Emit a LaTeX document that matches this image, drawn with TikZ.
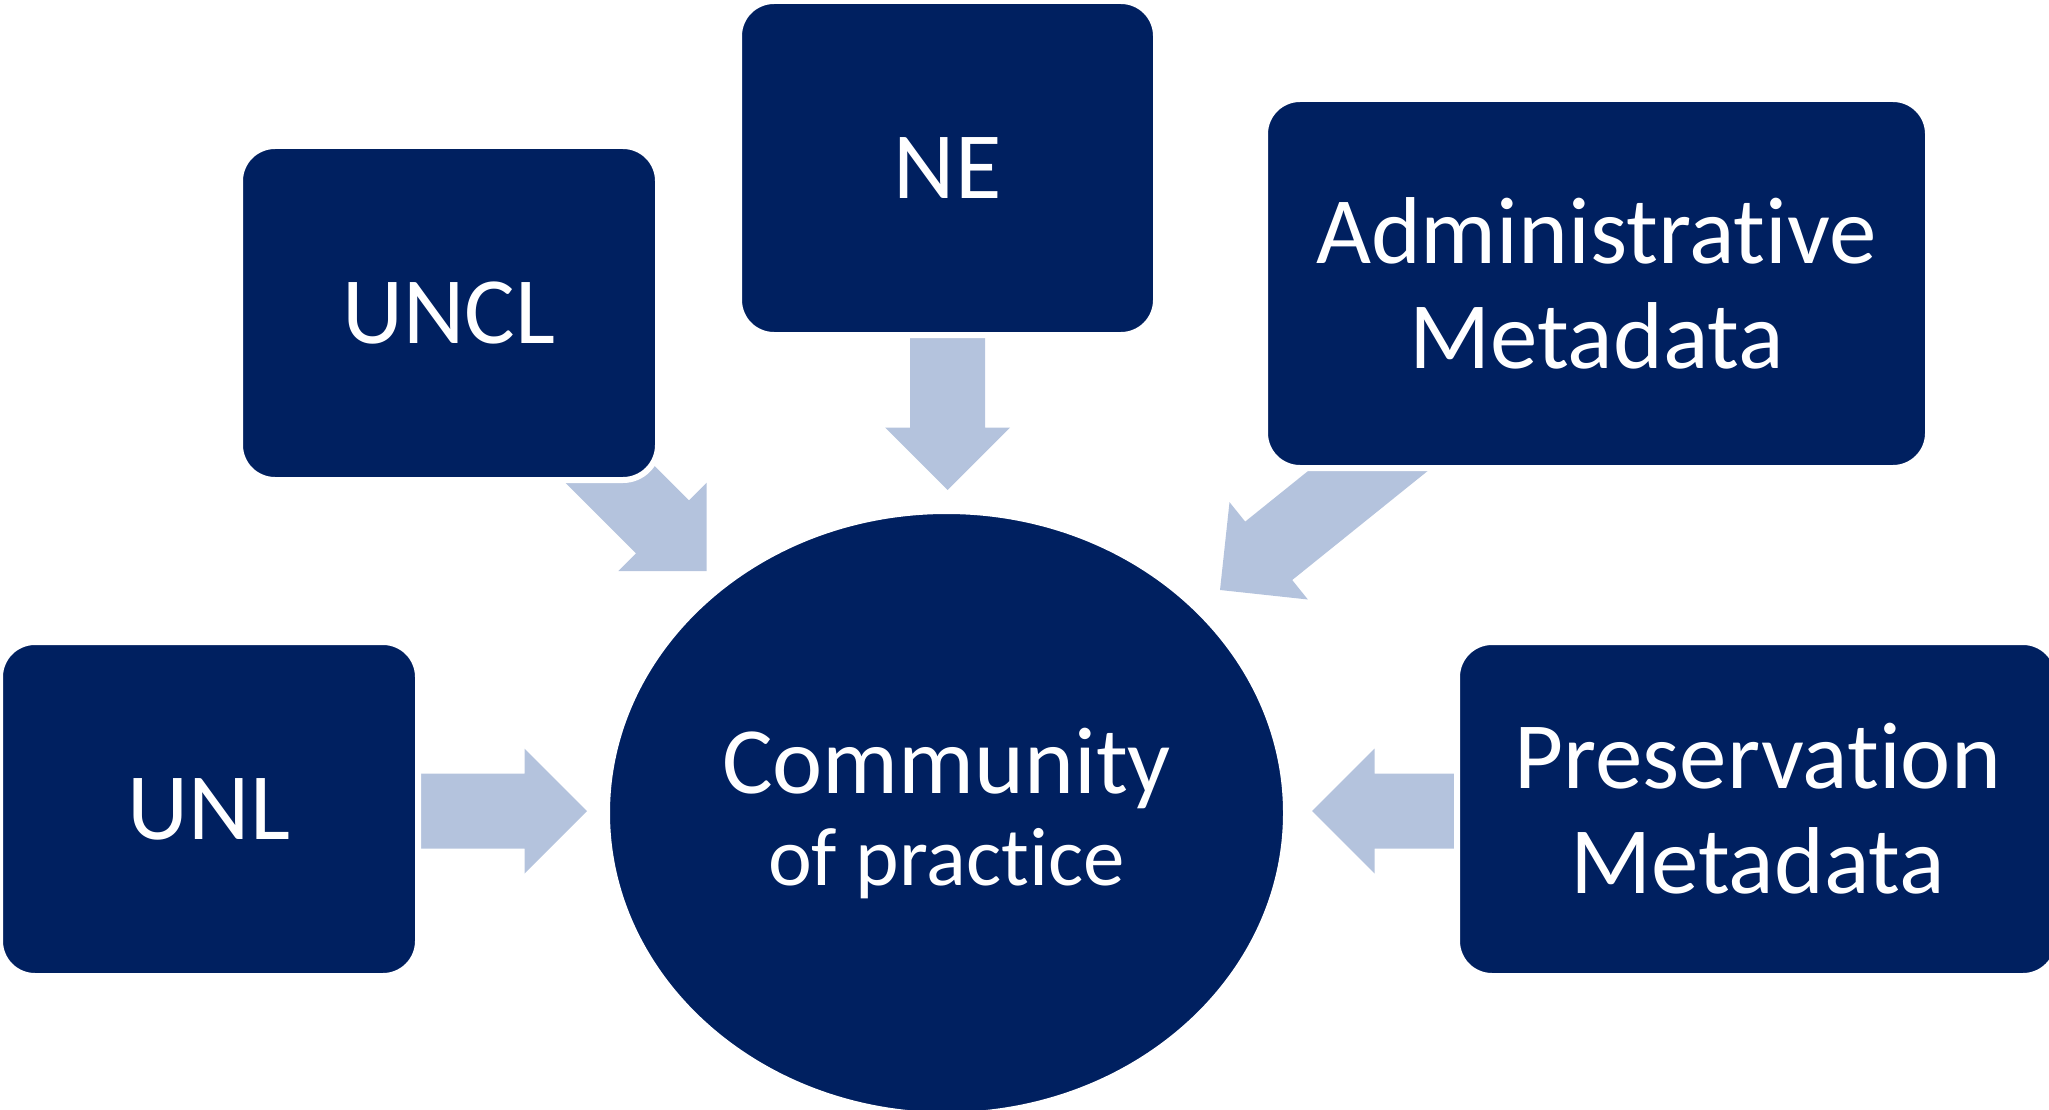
\documentclass[tikz,border=0pt]{standalone}
\usepackage{fontspec}
\setmainfont{Carlito}[Ligatures={NoCommon,NoRare,NoContextual}]
\usetikzlibrary{calc,shapes.geometric}

\definecolor{boxnavy}{RGB}{0,32,96}
\definecolor{arrowblue}{RGB}{180,195,221}

% block arrow from tail (#1) to tip (#2)
\newcommand{\flowarrow}[2]{%
  \coordinate (hb) at ($(#2)!62.5pt!(#1)$);
  \fill [arrowblue]
  ($(#1)!37.5pt!90:(#2)$) --
  ($(hb)!37.5pt!90:(#2)$) --
  ($(hb)!62.5pt!90:(#2)$) --
  (#2) --
  ($(hb)!62.5pt!-90:(#2)$) --
  ($(hb)!37.5pt!-90:(#2)$) --
  ($(#1)!37.5pt!-90:(#2)$) -- cycle;
}

\begin{document}
\begin{tikzpicture}[x=1pt,y=-1pt,
  box/.style={rectangle, rounded corners=35pt, fill=boxnavy, draw=white,
    line width=6pt, inner sep=0pt, outer sep=0pt, text=white, align=center,
    font=\fontsize{95}{105}\selectfont},
  hub/.style={ellipse, fill=boxnavy, draw=white, line width=6pt,
    inner sep=0pt, text=white, align=center, font=\fontsize{95}{92}\selectfont,
    minimum width=679pt, minimum height=604pt}]

\useasboundingbox (0,0) rectangle (2049,1110);

% arrows
\coordinate (netail) at (947.5,336);
\coordinate (netip) at (947.5,490);
\coordinate (unltail) at (419,811);
\coordinate (unltip) at (587,811);
\coordinate (prestail) at (1456,811);
\coordinate (prestip) at (1312,811);
\coordinate (uncltail) at (586.5,450.8);
\coordinate (uncltip) at (706.7,571);
\coordinate (admintail) at (1414.8,433.2);
\coordinate (admintip) at (1220,590);

\flowarrow{netail}{netip}
\flowarrow{unltail}{unltip}
\flowarrow{prestail}{prestip}
\flowarrow{uncltail}{uncltip}
\flowarrow{admintail}{admintip}

% boxes
\node [box, minimum width=418pt, minimum height=334pt] (uncl) at (449,313) {UNCL};
\node [box, minimum width=417pt, minimum height=334pt] (ne) at (947.5,168) {NE};
\node [box, minimum width=663pt, minimum height=369pt] (admin) at (1596.5,283.5)
  {Administrative\\Metadata};
\node [box, minimum width=418pt, minimum height=334pt] (unl) at (209,809) {UNL};
\node [box, minimum width=601pt, minimum height=334pt] (pres) at (1757.5,809)
  {Preservation\\Metadata};

% centre
\node [hub] (cop) at (946.5,813)
  {Community\\{\fontsize{83}{92}\selectfont of practice}};

\end{tikzpicture}
\end{document}
